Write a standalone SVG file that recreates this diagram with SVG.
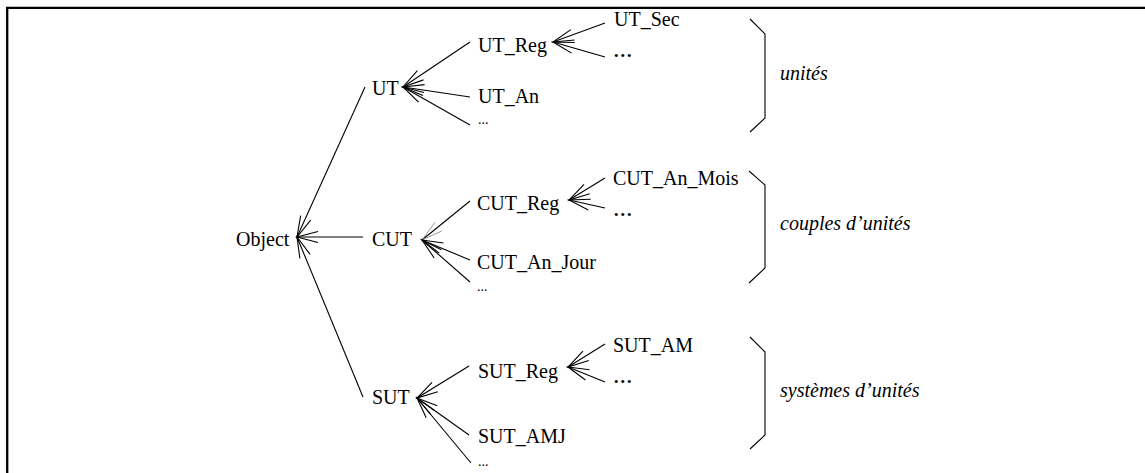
<svg xmlns="http://www.w3.org/2000/svg" width="1145" height="473" viewBox="0 0 1145 473">
<style>
text{font-family:"Liberation Serif","Times New Roman",serif;font-size:20px;fill:#000}
.it{font-style:italic}
.sd{font-size:14px}
.bd{font-size:26px}
.c line{stroke:#000;stroke-width:1.1;marker-end:url(#a)}
.c line.g{marker-end:url(#ag)}
.br{fill:none;stroke:#000;stroke-width:1.1}
</style>
<defs>
<marker id="a" markerUnits="userSpaceOnUse" orient="auto" viewBox="-25 -10 30 20" markerWidth="30" markerHeight="20" refX="0" refY="0">
<path d="M-21,-5.5 L0,0 L-21,5.5" fill="none" stroke="#000" stroke-width="1.1"/>
</marker>
<marker id="ag" markerUnits="userSpaceOnUse" orient="auto" viewBox="-25 -10 30 20" markerWidth="30" markerHeight="20" refX="0" refY="0">
<path d="M-21,-5.5 L0,0 L-21,5.5" fill="none" stroke="#888" stroke-width="0.8"/>
</marker>
</defs>
<rect width="1145" height="473" fill="#fff"/>
<path d="M7.2,473 V7.8 H1145" fill="none" stroke="#000" stroke-width="2.3"/>
<g class="c" id="connectors">
<line x1="365" y1="87" x2="297" y2="237"/>
<line x1="363" y1="237" x2="297" y2="237"/>
<line x1="363" y1="397" x2="297" y2="237"/>
<line x1="470" y1="42" x2="403" y2="87"/>
<line x1="470" y1="97" x2="403" y2="87"/>
<line x1="470" y1="125" x2="403" y2="87"/>
<line x1="605" y1="23" x2="553" y2="42"/>
<line x1="605" y1="57" x2="553" y2="42"/>
<line class="g" x1="470" y1="201" x2="422" y2="240"/>
<line x1="470" y1="260" x2="422" y2="240"/>
<line x1="470" y1="282" x2="422" y2="240"/>
<line x1="605" y1="178" x2="569" y2="200"/>
<line x1="605" y1="208" x2="569" y2="200"/>
<line x1="469" y1="366" x2="417" y2="398"/>
<line x1="469" y1="435" x2="417" y2="398"/>
<line x1="471" y1="463" x2="417" y2="398"/>
<line x1="605" y1="344" x2="568" y2="367"/>
<line x1="605" y1="382" x2="568" y2="367"/>
</g>
<g id="Object"><text x="236" y="246">Object</text></g>
<g id="UT"><text x="372" y="95">UT</text></g>
<g id="CUT"><text x="372" y="246">CUT</text></g>
<g id="SUT"><text x="372" y="404">SUT</text></g>
<g id="UT_Reg"><text x="478" y="52">UT_Reg</text></g>
<g id="UT_An"><text x="478" y="103">UT_An</text></g>
<g id="UT_more"><text class="sd" x="478" y="124">...</text></g>
<g id="UT_Sec"><text x="614" y="26">UT_Sec</text></g>
<g id="UT_Reg_more"><text class="bd" x="613" y="57">...</text></g>
<g id="CUT_Reg"><text x="477" y="210">CUT_Reg</text></g>
<g id="CUT_An_Jour"><text x="477" y="269">CUT_An_Jour</text></g>
<g id="CUT_more"><text class="sd" x="477" y="291">...</text></g>
<g id="CUT_An_Mois"><text x="613" y="185">CUT_An_Mois</text></g>
<g id="CUT_Reg_more"><text class="bd" x="613" y="216">...</text></g>
<g id="SUT_Reg"><text x="478" y="378">SUT_Reg</text></g>
<g id="SUT_AMJ"><text x="478" y="443">SUT_AMJ</text></g>
<g id="SUT_more"><text class="sd" x="478" y="466">...</text></g>
<g id="SUT_AM"><text x="613" y="352">SUT_AM</text></g>
<g id="SUT_Reg_more"><text class="bd" x="613" y="383">...</text></g>
<g id="brace_unites">
<path class="br" d="M750,19 L765,34 V118 L750,132"/>
<text class="it" x="780" y="80">unités</text>
</g>
<g id="brace_couples">
<path class="br" d="M749,171 L765,185 V268 L749,283"/>
<text class="it" x="780" y="230">couples d’unités</text>
</g>
<g id="brace_systemes">
<path class="br" d="M750,337 L765,352 V435 L750,449"/>
<text class="it" x="780" y="397">systèmes d’unités</text>
</g>
</svg>
